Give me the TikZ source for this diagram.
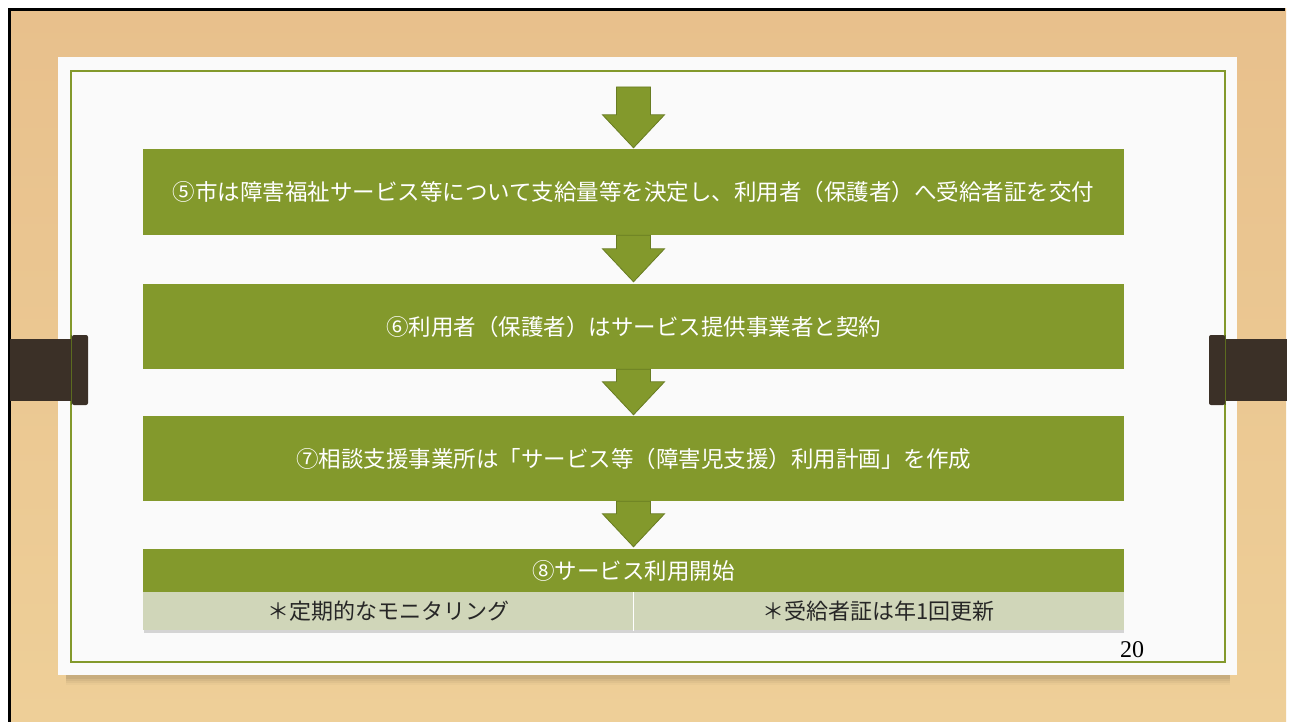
\documentclass[tikz,border=0pt]{standalone}
\usepackage{fontspec}
\newfontfamily\jp{Noto Sans CJK JP}
\newfontfamily\tms{Liberation Serif}
\usetikzlibrary{calc}
\definecolor{woodtop}{RGB}{232,192,140}
\definecolor{woodbot}{RGB}{238,207,152}
\definecolor{boxgreen}{RGB}{131,153,44}
\definecolor{arrowedge}{RGB}{104,124,34}
\definecolor{paleg}{RGB}{208,214,185}
\definecolor{clamp}{RGB}{59,48,39}
\definecolor{card}{RGB}{250,250,250}
\tikzset{
  stepbox/.style={draw=none, fill=boxgreen, minimum width=981pt, inner sep=0pt,
    text=white, font=\jp\fontsize{22.5}{26}\selectfont},
  subbox/.style={draw=none, fill=paleg, minimum width=490.5pt, minimum height=38pt,
    inner sep=0pt, text=black!85, font=\jp\fontsize{22}{26}\selectfont},
  blockarrow/.style={fill=boxgreen, draw=arrowedge, line width=0.8pt, line join=miter},
}
\newcommand\blkarrow[2]{%
  \draw[blockarrow] ($(#1)+(-17,0)$) -- ($(#2)+(-17,-33)$) -- ($(#2)+(-31,-33)$) -- (#2)
    -- ($(#2)+(31,-33)$) -- ($(#2)+(17,-33)$) -- ($(#1)+(17,0)$) -- cycle;}
\begin{document}
\begin{tikzpicture}[x=1pt,y=-1pt]
\useasboundingbox (0,0) rectangle (1289,722);
% background
\fill[white] (0,0) rectangle (1289,722);
\shade[top color=woodtop, bottom color=woodbot] (9,9) rectangle (1286,722);
\draw[black, line width=2.5pt] (9.5,722) -- (9.5,9.5) -- (1285,9.5);
% card shadow
\foreach \o/\a in {8/0.025,6/0.035,4/0.045,2/0.06}{
  \fill[black, opacity=\a] (66,{674-\o}) rectangle (1230,{677+\o});
}
\fill[card] (58,57) rectangle (1237,675);
\draw[boxgreen, line width=1.3pt] (71,71) rectangle (1225,662);
% clamps
\fill[clamp] (10,339) rectangle (72,401);
\fill[clamp, rounded corners=2pt] (72,335) rectangle (88,405);
\draw[boxgreen!70!black, line width=0.6pt] (71,335) -- (71,405);
\fill[clamp] (1225,339) rectangle (1287,401);
\fill[clamp, rounded corners=2pt] (1209,335) rectangle (1225,405);
\draw[boxgreen!70!black, line width=0.6pt] (1225,335) -- (1225,405);
% boxes
\node[stepbox, minimum height=86pt] (b5) at (633.5,192) {⑤市は障害福祉サービス等について支給量等を決定し、利用者（保護者）へ受給者証を交付};
\node[stepbox, minimum height=85pt] (b6) at (633.5,326.5) {⑥利用者（保護者）はサービス提供事業者と契約};
\node[stepbox, minimum height=85pt] (b7) at (633.5,458.5) {⑦相談支援事業所は「サービス等（障害児支援）利用計画」を作成};
\node[stepbox, minimum height=43pt] (b8) at (633.5,570.5) {⑧サービス利用開始};
\fill[black, opacity=0.15] (144,630) rectangle (1124,633);
\node[subbox, anchor=north west] (s1) at (b8.south west) {＊定期的なモニタリング};
\node[subbox, anchor=north east] (s2) at (b8.south east) {＊受給者証は年1回更新};
\draw[white, line width=0.8pt] (s1.north east) -- (s1.south east);
% arrows
\coordinate (top) at (633.5,87);
\coordinate (t5) at ($(b5.north)+(0,-1)$);
\coordinate (t6) at ($(b6.north)+(0,-2)$);
\coordinate (t7) at ($(b7.north)+(0,-1)$);
\coordinate (t8) at ($(b8.north)+(0,-2)$);
\blkarrow{top}{t5}
\blkarrow{b5.south}{t6}
\blkarrow{b6.south}{t7}
\blkarrow{b7.south}{t8}
% page number
\node[anchor=base, font=\tms\fontsize{24}{26}\selectfont, text=black] (pn) at (1132,657) {20};
\end{tikzpicture}
\end{document}
